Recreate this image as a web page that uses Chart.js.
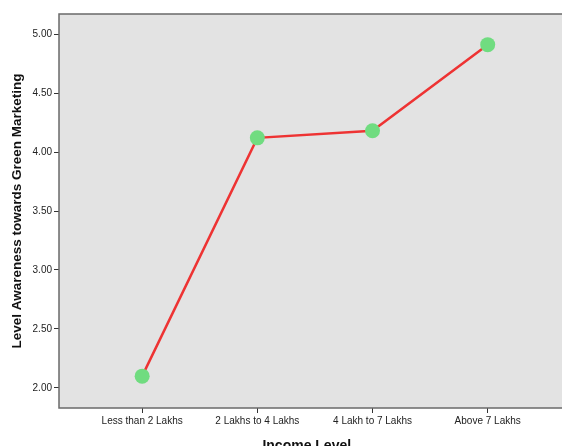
<!DOCTYPE html>
<html>
<head>
<meta charset="utf-8">
<script src="https://cdn.jsdelivr.net/npm/chart.js@4"></script>
<style>
  html, body { margin: 0; padding: 0; overflow: hidden; background: #fff; }
  #wrap { width: 562px; height: 446px; overflow: hidden; }
</style>
</head>
<body>
<div id="wrap"><canvas id="chart" width="562" height="458"></canvas></div>
<script>
const categories = ['Less than 2 Lakhs', '2 Lakhs to 4 Lakhs', '4 Lakh to 7 Lakhs', 'Above 7 Lakhs'];
const awareness = [2.10, 4.12, 4.18, 4.91];
const yTicks = [2.00, 2.50, 3.00, 3.50, 4.00, 4.50, 5.00];

const points = awareness.map((v, i) => ({ x: i, y: v }));

// grey plot background with a frame round it
const plotFrame = {
    id: 'plotFrame',
    beforeDatasetsDraw(chart) {
        const a = chart.chartArea;
        const ctx = chart.ctx;
        ctx.save();
        ctx.fillStyle = '#e3e3e3';
        ctx.fillRect(a.left, a.top, a.right - a.left + 12, a.bottom - a.top);
        ctx.strokeStyle = '#6a6a6a';
        ctx.lineWidth = 1.5;
        ctx.strokeRect(a.left, a.top, a.right - a.left + 12, a.bottom - a.top);
        ctx.restore();
    }
};

const ctx = document.getElementById('chart').getContext('2d');
new Chart(ctx, {
    type: 'line',
    data: {
        datasets: [{
            data: points,
            borderColor: '#ee3333',
            borderWidth: 2.5,
            pointBackgroundColor: '#70dc80',
            pointBorderColor: '#70dc80',
            pointRadius: 7.5,
            pointBorderWidth: 0,
            tension: 0,
            clip: false
        }]
    },
    options: {
        responsive: false,
        animation: false,
        layout: { padding: { top: 14, left: 0, right: 0, bottom: 0 } },
        plugins: { legend: { display: false }, tooltip: { enabled: false } },
        scales: {
            x: {
                type: 'linear',
                min: -0.722,
                max: 3.58,
                afterBuildTicks: s => { s.ticks = categories.map((c, i) => ({ value: i })); },
                afterFit: s => { s.height = 50; },
                ticks: {
                    callback: v => categories[v],
                    color: '#222',
                    font: { family: 'Liberation Sans, Arial', size: 10 },
                    padding: 2,
                    maxRotation: 0,
                    autoSkip: false
                },
                grid: { drawOnChartArea: false, drawTicks: true, tickLength: 5, tickColor: '#333', tickWidth: 1 },
                border: { display: false },
                title: {
                    display: true,
                    text: 'Income Level',
                    color: '#111',
                    font: { family: 'Liberation Sans, Arial', size: 14, weight: 'bold' },
                    padding: { top: 0, bottom: 3 }
                }
            },
            y: {
                min: 1.83,
                max: 5.17,
                afterBuildTicks: s => { s.ticks = yTicks.map(v => ({ value: v })); },
                afterFit: s => { s.width = 59; },
                ticks: {
                    callback: v => v.toFixed(2),
                    color: '#222',
                    font: { family: 'Liberation Sans, Arial', size: 10 },
                    padding: 2
                },
                grid: { drawOnChartArea: false, drawTicks: true, tickLength: 5, tickColor: '#333', tickWidth: 1 },
                border: { display: false },
                title: {
                    display: true,
                    text: 'Level Awareness towards Green Marketing',
                    color: '#111',
                    font: { family: 'Liberation Sans, Arial', size: 13.5, weight: 'bold' },
                    padding: { top: 9, bottom: 0 }
                }
            }
        }
    },
    plugins: [plotFrame]
});
</script>
</body>
</html>
